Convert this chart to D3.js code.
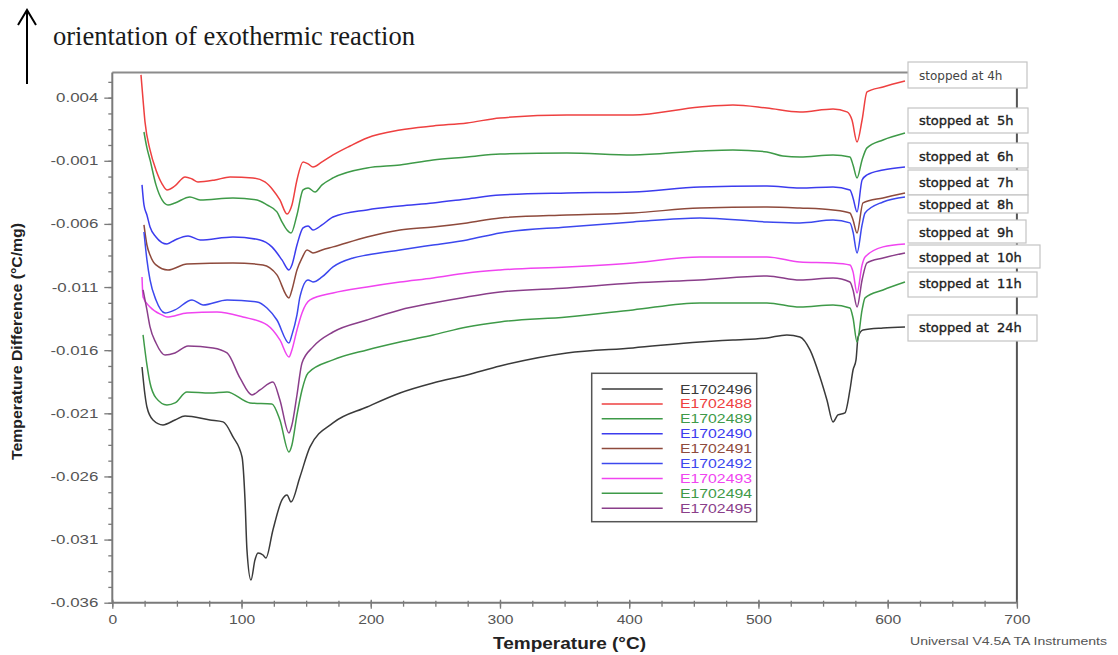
<!DOCTYPE html>
<html><head><meta charset="utf-8">
<script src="https://cdn.jsdelivr.net/npm/d3@7"></script>
<style>body{margin:0;background:#fff}</style>
</head><body><svg id="c" width="1118" height="655"></svg>
<script>
// ---------------- DATA ----------------
const legendNames = ["E1702496","E1702488","E1702489","E1702490","E1702491","E1702492","E1702493","E1702494","E1702495"];
const xTickValues = [0,100,200,300,400,500,600,700];
const yTickValues = [0.004,-0.001,-0.006,-0.011,-0.016,-0.021,-0.026,-0.031,-0.036];
const stopLabels = ["stopped at 4h","stopped at  5h","stopped at  6h","stopped at  7h","stopped at  8h","stopped at  9h","stopped at  10h","stopped at  11h","stopped at  24h"];

// [temperature °C, temperature difference °C/mg]
const E1702488 = [[22.2,0.0058],[23.8,0.00382],[25.3,0.00208],[29.2,-0.00014],[33.8,-0.00173],[38.5,-0.00283],[42.3,-0.00331],[48.5,-0.00299],[56.3,-0.00228],[61.7,-0.00244],[66.3,-0.00268],[79.5,-0.00252],[91.1,-0.00228],[108.9,-0.00236],[118.1,-0.00268],[124.3,-0.00331],[129.7,-0.0041],[135.2,-0.00521],[139.0,-0.0045],[142.9,-0.00252],[147.6,-0.00109],[151.5,-0.00125],[155.3,-0.00149],[162.3,-0.00109],[170.8,-0.00054],[184.0,0.00017],[197.1,0.00081],[222.6,0.00144],[248.2,0.00176],[274.5,0.0020],[300,0.00239],[351.8,0.00263],[402.9,0.00263],[454.7,0.00326],[480.3,0.00342],[506.6,0.00318],[532.1,0.00287],[557.7,0.00311],[568.5,0.00287],[572.4,0.00223],[576.3,0.00049],[580.2,0.00223],[584.0,0.00445],[596.4,0.00485],[613.4,0.00532]];
const E1702489 = [[24.5,0.00128],[26.8,0.00002],[29.2,-0.00093],[33.8,-0.00291],[38.5,-0.0041],[43.1,-0.0045],[48.5,-0.00434],[60.1,-0.00386],[67.9,-0.0041],[93.4,-0.00394],[112.0,-0.0041],[119.7,-0.0045],[127.4,-0.00505],[131.3,-0.00584],[135.2,-0.00648],[138.3,-0.00672],[142.9,-0.00529],[147.6,-0.00331],[151.5,-0.00315],[156.9,-0.00347],[162.3,-0.00291],[170.8,-0.00236],[197.1,-0.00157],[222.6,-0.00133],[248.2,-0.00093],[274.5,-0.0007],[300,-0.00046],[351.8,-0.00038],[402.9,-0.00054],[454.7,-0.00022],[480.3,-0.00014],[506.6,-0.0003],[518.9,-0.00062],[532.1,-0.0007],[557.7,-0.00054],[570.8,-0.0007],[573.2,-0.00133],[576.3,-0.00236],[580.2,-0.00093],[584.0,0.00002],[596.4,0.00065],[613.4,0.0012]];
const E1702490 = [[23.0,-0.00291],[24.5,-0.0045],[26.8,-0.00529],[29.2,-0.00624],[33.8,-0.00703],[42.3,-0.00759],[48.5,-0.00727],[58.6,-0.00695],[67.9,-0.00727],[93.4,-0.00703],[114.3,-0.00727],[123.5,-0.00782],[131.3,-0.00885],[136.7,-0.00965],[139.0,-0.00925],[142.9,-0.00767],[147.6,-0.00632],[151.5,-0.00616],[155.3,-0.00648],[162.3,-0.00608],[170.8,-0.00545],[197.1,-0.00489],[222.6,-0.00458],[248.2,-0.00434],[274.5,-0.00402],[300,-0.00371],[351.8,-0.00355],[402.9,-0.00347],[454.7,-0.00307],[506.6,-0.00299],[532.1,-0.00315],[557.7,-0.00307],[570.8,-0.00331],[573.2,-0.00394],[576.3,-0.00505],[580.2,-0.00252],[584.0,-0.00212],[596.4,-0.00173],[613.4,-0.00149]];
const E1702491 = [[24.5,-0.00608],[26.8,-0.00767],[29.2,-0.00846],[33.8,-0.00925],[43.1,-0.00965],[57.8,-0.00917],[93.4,-0.00909],[116.6,-0.00925],[127.4,-0.01004],[136.7,-0.01186],[139.0,-0.01123],[142.9,-0.00965],[146.8,-0.0087],[150.7,-0.00806],[155.3,-0.0083],[162.3,-0.00806],[170.8,-0.00782],[197.1,-0.00703],[222.6,-0.00648],[248.2,-0.00624],[274.5,-0.00592],[300,-0.00553],[351.8,-0.00529],[402.9,-0.00513],[454.7,-0.00474],[506.6,-0.00466],[532.1,-0.00474],[557.7,-0.00489],[570.8,-0.00513],[573.2,-0.00569],[576.3,-0.00672],[580.9,-0.00434],[596.4,-0.00394],[613.4,-0.00355]];
const E1702492 = [[24.5,-0.00664],[26.8,-0.00885],[29.2,-0.01044],[33.8,-0.01202],[40.8,-0.01305],[48.5,-0.01281],[61.7,-0.01202],[70.2,-0.01242],[88.8,-0.01202],[112.0,-0.01218],[119.7,-0.01266],[127.4,-0.01361],[136.7,-0.01543],[139.0,-0.01479],[142.9,-0.01321],[145.2,-0.01178],[151.5,-0.01044],[155.3,-0.0106],[162.3,-0.0102],[170.8,-0.00941],[186.3,-0.0087],[197.1,-0.00846],[222.6,-0.00806],[248.2,-0.00767],[274.5,-0.00727],[300,-0.00672],[351.8,-0.00624],[402.9,-0.00584],[454.7,-0.00553],[506.6,-0.00584],[532.1,-0.00592],[557.7,-0.00569],[570.8,-0.00592],[573.2,-0.00664],[576.3,-0.0083],[580.2,-0.00608],[582.5,-0.00513],[596.4,-0.00426],[613.4,-0.00386]];
const E1702493 = [[23.0,-0.0102],[23.8,-0.01178],[29.2,-0.01258],[38.5,-0.01321],[42.3,-0.01337],[57.8,-0.01305],[81.0,-0.01297],[101.1,-0.01337],[119.7,-0.0140],[129.7,-0.01519],[136.7,-0.01654],[139.0,-0.01598],[142.9,-0.0144],[146.8,-0.01305],[153.0,-0.01202],[170.8,-0.01147],[197.1,-0.01099],[222.6,-0.0106],[248.2,-0.01028],[274.5,-0.00988],[300,-0.00965],[351.8,-0.00941],[402.9,-0.00909],[454.7,-0.00862],[506.6,-0.00862],[532.1,-0.00901],[557.7,-0.00909],[570.8,-0.00925],[573.2,-0.0098],[576.3,-0.01147],[580.2,-0.00925],[582.5,-0.00862],[596.4,-0.00782],[613.4,-0.00759]];
const E1702494 = [[23.8,-0.01479],[26.8,-0.01717],[29.2,-0.0186],[33.8,-0.01978],[42.3,-0.02034],[48.5,-0.02018],[57.8,-0.01931],[75.6,-0.01939],[88.8,-0.01931],[106.6,-0.02018],[123.5,-0.02026],[129.7,-0.02153],[136.7,-0.02406],[139.0,-0.02351],[142.9,-0.02113],[146.8,-0.01915],[151.5,-0.0178],[170.8,-0.01677],[197.1,-0.01598],[222.6,-0.01535],[248.2,-0.01479],[274.5,-0.01416],[300,-0.01376],[351.8,-0.01337],[402.9,-0.01281],[454.7,-0.01226],[506.6,-0.01226],[532.1,-0.01258],[557.7,-0.01242],[570.8,-0.01266],[573.2,-0.01345],[576.3,-0.01535],[580.2,-0.01281],[582.5,-0.01186],[596.4,-0.01123],[613.4,-0.0106]];
const E1702495 = [[23.8,-0.01123],[26.8,-0.01281],[29.2,-0.01416],[33.8,-0.01543],[40.8,-0.01638],[48.5,-0.01622],[58.6,-0.01567],[77.9,-0.01582],[88.8,-0.01622],[98.8,-0.0182],[108.1,-0.01955],[114.3,-0.01915],[124.3,-0.01852],[129.7,-0.01994],[136.7,-0.02256],[139.0,-0.02192],[142.9,-0.01955],[146.8,-0.01701],[155.3,-0.01574],[170.8,-0.01456],[197.1,-0.01361],[222.6,-0.01281],[248.2,-0.01226],[274.5,-0.01178],[300,-0.01139],[351.8,-0.01107],[402.9,-0.01068],[454.7,-0.01044],[506.6,-0.01012],[532.1,-0.01044],[557.7,-0.01028],[570.8,-0.0106],[573.2,-0.01123],[576.3,-0.01258],[580.2,-0.01044],[584.0,-0.00909],[596.4,-0.0087],[613.4,-0.0083]];
const E1702496 = [[23.0,-0.01733],[25.3,-0.01955],[26.8,-0.0205],[31.5,-0.02153],[39.2,-0.02192],[48.5,-0.02153],[56.3,-0.02121],[75.6,-0.02153],[85.7,-0.02168],[93.4,-0.02287],[100.4,-0.02446],[102.7,-0.02786],[104.2,-0.03182],[107.3,-0.0342],[110.4,-0.03261],[112.7,-0.03206],[116.6,-0.03222],[118.9,-0.03246],[124.3,-0.03024],[131.3,-0.02786],[135.2,-0.02747],[138.3,-0.02802],[145.2,-0.02604],[153.0,-0.02366],[170.8,-0.02176],[197.1,-0.0205],[222.6,-0.01939],[248.2,-0.0186],[274.5,-0.01796],[300,-0.01725],[351.8,-0.01622],[402.9,-0.01582],[454.7,-0.01535],[480.3,-0.01519],[506.6,-0.01503],[522.0,-0.01479],[532.1,-0.01495],[539.9,-0.01598],[547.6,-0.01812],[553.0,-0.01994],[557.7,-0.02168],[561.5,-0.02113],[566.9,-0.02097],[570.8,-0.01915],[573.2,-0.01757],[575.5,-0.01677],[577.1,-0.01495],[580.9,-0.0144],[596.4,-0.01424],[613.4,-0.01416]];

const seriesData = {E1702496, E1702488, E1702489, E1702490, E1702491, E1702492, E1702493, E1702494, E1702495};

// ---------------- STYLE / LAYOUT ----------------
const colors = {E1702496:"#3a3a3a",E1702488:"#ee4040",E1702489:"#3e9a48",E1702490:"#3c3cee",E1702491:"#8e4a3c",E1702492:"#3c48ee",E1702493:"#f044f0",E1702494:"#3e9a48",E1702495:"#8a3e8a"};
const boxLayout = [
  {y:62,h:26,w:119,base:80,fs:12,fill:"#444",sw:0},
  {y:108,h:25,w:120,base:125,fs:13,fill:"#222",sw:0.35},
  {y:143,h:25,w:120,base:161,fs:13,fill:"#222",sw:0.35},
  {y:170,h:25,w:120,base:187,fs:13,fill:"#222",sw:0.35},
  {y:195,h:18,w:120,base:209,fs:13,fill:"#222",sw:0.35},
  {y:220,h:23,w:118,base:237,fs:13,fill:"#222",sw:0.35},
  {y:245,h:23,w:132,base:262,fs:13,fill:"#222",sw:0.35},
  {y:272,h:25,w:129,base:288,fs:13,fill:"#222",sw:0.35},
  {y:315,h:26,w:129,base:332,fs:13,fill:"#222",sw:0.35}
];

const W=1118,H=655;
const svg=d3.select("#c");
svg.append("rect").attr("width",W).attr("height",H).attr("fill","#fff");

const x=d3.scaleLinear().domain([0,700]).range([112.3,1016.9]);
const y=d3.scaleLinear().domain([-0.036,0.006]).range([602.7,72.4]);

function stretch(sel,f){
  sel.each(function(){
    const L=this.getComputedTextLength();
    this.setAttribute("textLength",L*f);
    this.setAttribute("lengthAdjust","spacingAndGlyphs");
  });
}

// frame (top / right)
svg.append("line").attr("x1",x(0)).attr("x2",x(700)).attr("y1",y(0.006)).attr("y2",y(0.006))
  .attr("stroke","#8c8c8c").attr("stroke-width",2);
svg.append("line").attr("x1",x(700)).attr("x2",x(700)).attr("y1",y(0.006)).attr("y2",y(-0.036))
  .attr("stroke","#555").attr("stroke-width",2);

// Y axis
const yMinor=d3.range(0,34).map(k=>-0.036+k*0.00125);
const gyMinor=svg.append("g").attr("transform",`translate(${x(0)},0)`)
  .call(d3.axisLeft(y).tickValues(yMinor).tickSize(4).tickFormat(""));
gyMinor.select(".domain").remove();
const gy=svg.append("g").attr("transform",`translate(${x(0)},0)`)
  .call(d3.axisLeft(y).tickValues(yTickValues).tickSize(8).tickFormat(d=>d.toFixed(3)));
gy.select(".domain").attr("d",`M0,${y(0.006)}V${y(-0.036)}`).attr("stroke","#7a7a7a").attr("stroke-width",2);
svg.selectAll("g.tick line").attr("stroke","#7a7a7a").attr("stroke-width",1.3);
gy.selectAll(".tick text").attr("x",-14).attr("font-family","Liberation Sans, Arial, sans-serif")
  .attr("font-size",12.5).attr("fill","#555");
stretch(gy.selectAll(".tick text"),1.35);

// X axis
const gxMinor=svg.append("g").attr("transform",`translate(0,${y(-0.036)})`)
  .call(d3.axisBottom(x).tickValues(d3.range(0,701,25)).tickSize(4).tickFormat(""));
gxMinor.select(".domain").remove();
gxMinor.selectAll(".tick line").attr("y1",-2).attr("stroke","#7a7a7a").attr("stroke-width",1.3);
const gx=svg.append("g").attr("transform",`translate(0,${y(-0.036)})`)
  .call(d3.axisBottom(x).tickValues(xTickValues).tickSize(6).tickFormat(d3.format("d")));
gx.select(".domain").attr("d",`M${x(0)},0H${x(700)}`).attr("stroke","#7a7a7a").attr("stroke-width",2);
gx.selectAll(".tick line").attr("y1",-3).attr("stroke","#7a7a7a").attr("stroke-width",1.3);
gx.selectAll(".tick text").attr("y",12).attr("font-family","Liberation Sans, Arial, sans-serif")
  .attr("font-size",12.5).attr("fill","#555");
stretch(gx.selectAll(".tick text"),1.25);

// series
const line=d3.line().x(d=>x(d[0])).y(d=>y(d[1])).curve(d3.curveMonotoneX);
legendNames.forEach(n=>{
  svg.append("path").datum(seriesData[n]).attr("d",line).attr("fill","none")
    .attr("stroke",colors[n]).attr("stroke-width",1.5).attr("stroke-linejoin","round");
});

// axis titles
svg.append("text").attr("transform","translate(22,341.5) rotate(-90)").attr("text-anchor","middle")
  .attr("font-family","Liberation Sans, Arial, sans-serif").attr("font-weight","bold").attr("font-size",15)
  .attr("fill","#222").attr("textLength",237).attr("lengthAdjust","spacingAndGlyphs")
  .text("Temperature Difference (°C/mg)");
svg.append("text").attr("x",569.5).attr("y",649).attr("text-anchor","middle")
  .attr("font-family","Liberation Sans, Arial, sans-serif").attr("font-weight","bold").attr("font-size",16)
  .attr("fill","#222").attr("textLength",153).attr("lengthAdjust","spacingAndGlyphs")
  .text("Temperature (°C)");
svg.append("text").attr("x",910).attr("y",645)
  .attr("font-family","Liberation Sans, Arial, sans-serif").attr("font-size",11.5)
  .attr("fill","#555").attr("textLength",197).attr("lengthAdjust","spacingAndGlyphs")
  .text("Universal V4.5A TA Instruments");

// exothermic arrow + caption
svg.append("line").attr("x1",27).attr("x2",27).attr("y1",84).attr("y2",11).attr("stroke","#000").attr("stroke-width",2);
svg.append("path").attr("d","M18,25L27,10L36,25").attr("fill","none").attr("stroke","#000").attr("stroke-width",2);
svg.append("text").attr("x",53).attr("y",45).attr("font-family","Liberation Serif, Times New Roman, serif")
  .attr("font-size",27).attr("fill","#1a1a1a").attr("textLength",362).attr("lengthAdjust","spacingAndGlyphs")
  .text("orientation of exothermic reaction");

// legend
const lg=svg.append("g");
lg.append("rect").attr("x",591.7).attr("y",373.3).attr("width",165).attr("height",148.4)
  .attr("fill","#fff").attr("stroke","#555").attr("stroke-width",1.5);
legendNames.forEach((n,i)=>{
  const cy=389+i*14.9;
  lg.append("line").attr("x1",601.7).attr("x2",662.7).attr("y1",cy).attr("y2",cy)
    .attr("stroke",colors[n]).attr("stroke-width",1.5);
  lg.append("text").attr("x",680).attr("y",cy+4.5).attr("font-family","Liberation Sans, Arial, sans-serif")
    .attr("font-size",12.5).attr("fill",colors[n]).attr("textLength",72).attr("lengthAdjust","spacingAndGlyphs")
    .text(n);
});

// stop-time labels
const lb=svg.append("g");
stopLabels.forEach((t,i)=>{
  const b=boxLayout[i];
  lb.append("rect").attr("x",908).attr("y",b.y).attr("width",b.w).attr("height",b.h)
    .attr("fill","#fff").attr("stroke","#c4c4c4").attr("stroke-width",1.2);
  lb.append("text").attr("x",919).attr("y",b.base).attr("font-family","DejaVu Sans, sans-serif")
    .attr("font-size",b.fs).attr("fill",b.fill).attr("stroke",b.fill).attr("stroke-width",b.sw)
    .attr("xml:space","preserve").style("white-space","pre").text(t);
});
</script>
</body></html>
